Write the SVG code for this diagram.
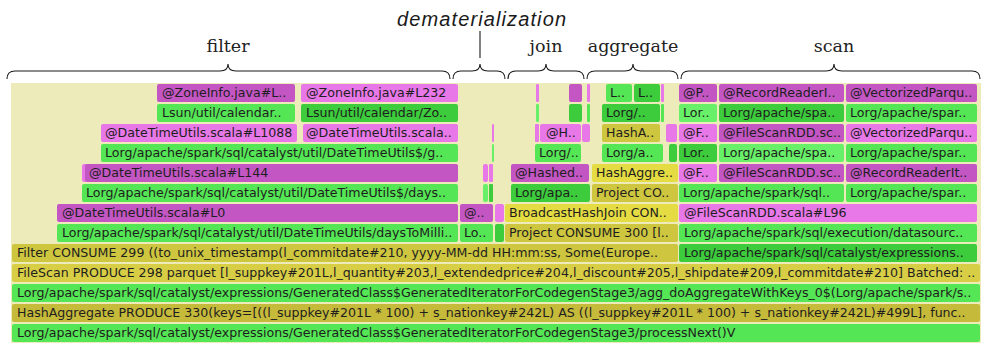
<svg xmlns="http://www.w3.org/2000/svg" width="982" height="343" viewBox="0 0 982 343">
  <style>
    .bg { fill: #eeebbb; }
    .p1 { fill: #c456c4; }
    .p2 { fill: #e878e8; }
    .g1 { fill: #55e655; }
    .g2 { fill: #3ccc3c; }
    .g3 { fill: #68f068; }
    .y1 { fill: #e4dc42; }
    .y2 { fill: #cec63e; }
    .y3 { fill: #d8ce46; }
    .y4 { fill: #c6ba3a; }
    .t { font-family: "DejaVu Sans", Verdana, sans-serif; font-size: 12.6px; fill: #1e1e1e; }
    .lbl { font-family: "DejaVu Serif", "Liberation Serif", serif; font-size: 17.5px; fill: #222; text-anchor: middle; }
    .lbl-i { font-family: "Liberation Sans", Arial, sans-serif; font-style: italic; font-size: 20px; fill: #1a1a1a; }
    .brace { fill: none; stroke: #1a1a1a; stroke-width: 1.1; }
  </style>

  <!-- phase braces and labels -->
  <g id="connectors">
    <path class="brace" d="M7,79 Q7,71 15,71 L220,71 Q228,71 228,64 Q228,71 236,71 L442,71 Q450,71 450,79"/>
    <path class="brace" d="M453,79 Q453,71 461,71 L472,71 Q480,71 480,64 Q480,71 488,71 L497,71 Q505,71 505,79"/>
    <line class="brace" x1="480" y1="31" x2="480" y2="58"/>
    <path class="brace" d="M508,79 Q508,71 516,71 L538,71 Q546,71 546,64 Q546,71 554,71 L576,71 Q584,71 584,79"/>
    <path class="brace" d="M587,79 Q587,71 595,71 L625,71 Q633,71 633,64 Q633,71 641,71 L670,71 Q678,71 678,79"/>
    <path class="brace" d="M681,79 Q681,71 689,71 L826,71 Q834,71 834,64 Q834,71 842,71 L972,71 Q980,71 980,79"/>
  </g>
  <g id="phase-labels">
    <text class="lbl" x="228" y="52">filter</text>
    <text class="lbl-i" x="397" y="26" textLength="169">dematerialization</text>
    <text class="lbl" x="546" y="52">join</text>
    <text class="lbl" x="633" y="52">aggregate</text>
    <text class="lbl" x="834" y="52">scan</text>
  </g>

  <!-- flame graph area -->
  <rect class="bg" x="11" y="83" width="970" height="260"/>

  <g id="frames">
    <!-- row 1 -->
    <g id="f1a"><rect class="p1" x="157" y="84" width="138" height="18" rx="2"/><text class="t" x="162" y="97">@ZoneInfo.java#L..</text></g>
    <g id="f1b"><rect class="p2" x="301" y="84" width="157" height="18" rx="2"/><text class="t" x="306" y="97">@ZoneInfo.java#L232</text></g>
    <g id="f1c"><rect class="p2" x="536" y="84" width="3" height="18" rx="1"/></g>
    <g id="f1d"><rect class="p1" x="569" y="84" width="13" height="18" rx="2"/></g>
    <g id="f1e"><rect class="p2" x="587" y="84" width="3" height="18" rx="1"/></g>
    <g id="f1f"><rect class="g1" x="606" y="84" width="26" height="18" rx="2"/><text class="t" x="610" y="97">L..</text></g>
    <g id="f1g"><rect class="g2" x="634" y="84" width="26" height="18" rx="2"/><text class="t" x="638" y="97">L..</text></g>
    <g id="f1h"><rect class="p2" x="661" y="84" width="3" height="18" rx="1"/></g>
    <g id="f1i"><rect class="p1" x="679" y="84" width="38" height="18" rx="2"/><text class="t" x="683" y="97">@P..</text></g>
    <g id="f1j"><rect class="p1" x="719" y="84" width="125" height="18" rx="2"/><text class="t" x="723" y="97">@RecordReaderI..</text></g>
    <g id="f1k"><rect class="p1" x="846" y="84" width="131" height="18" rx="2"/><text class="t" x="850" y="97">@VectorizedParqu..</text></g>

    <!-- row 2 -->
    <g id="f2a"><rect class="g1" x="157" y="104" width="138" height="18" rx="2"/><text class="t" x="162" y="117">Lsun/util/calendar..</text></g>
    <g id="f2b"><rect class="g2" x="301" y="104" width="157" height="18" rx="2"/><text class="t" x="306" y="117">Lsun/util/calendar/Zo..</text></g>
    <g id="f2c"><rect class="g3" x="536" y="104" width="3" height="18" rx="1"/></g>
    <g id="f2d"><rect class="g2" x="569" y="104" width="13" height="18" rx="2"/></g>
    <g id="f2e"><rect class="g1" x="587" y="104" width="3" height="18" rx="1"/></g>
    <g id="f2f"><rect class="g2" x="602" y="104" width="58" height="18" rx="2"/><text class="t" x="606" y="117">Lorg/..</text></g>
    <g id="f2g"><rect class="g1" x="661" y="104" width="3" height="18" rx="1"/></g>
    <g id="f2h"><rect class="g3" x="679" y="104" width="38" height="18" rx="2"/><text class="t" x="683" y="117">Lor..</text></g>
    <g id="f2i"><rect class="g2" x="719" y="104" width="125" height="18" rx="2"/><text class="t" x="723" y="117">Lorg/apache/spa..</text></g>
    <g id="f2j"><rect class="g1" x="846" y="104" width="131" height="18" rx="2"/><text class="t" x="850" y="117">Lorg/apache/spar..</text></g>

    <!-- row 3 -->
    <g id="f3a"><rect class="p2" x="101" y="124" width="196" height="18" rx="2"/><text class="t" x="105" y="137">@DateTimeUtils.scala#L1088</text></g>
    <g id="f3b"><rect class="p2" x="303" y="124" width="155" height="18" rx="2"/><text class="t" x="306" y="137">@DateTimeUtils.scala..</text></g>
    <g id="f3c"><rect class="p2" x="492" y="124" width="2" height="18" rx="1"/></g>
    <g id="f3d"><rect class="p2" x="535" y="124" width="4" height="18" rx="1"/></g>
    <g id="f3e"><rect class="p2" x="540" y="124" width="41" height="18" rx="2"/><text class="t" x="546" y="137">@H..</text></g>
    <g id="f3f"><rect class="p2" x="582" y="124" width="8" height="18" rx="2"/></g>
    <g id="f3g"><rect class="y2" x="602" y="124" width="58" height="18" rx="2"/><text class="t" x="606" y="137">HashA..</text></g>
    <g id="f3h"><rect class="p2" x="666" y="124" width="11" height="18" rx="2"/></g>
    <g id="f3i"><rect class="p2" x="679" y="124" width="38" height="18" rx="2"/><text class="t" x="683" y="137">@F..</text></g>
    <g id="f3j"><rect class="p1" x="719" y="124" width="125" height="18" rx="2"/><text class="t" x="723" y="137">@FileScanRDD.sc..</text></g>
    <g id="f3k"><rect class="p2" x="846" y="124" width="131" height="18" rx="2"/><text class="t" x="850" y="137">@VectorizedParqu..</text></g>

    <!-- row 4 -->
    <g id="f4a"><rect class="g1" x="101" y="144" width="357" height="18" rx="2"/><text class="t" x="105" y="157">Lorg/apache/spark/sql/catalyst/util/DateTimeUtils$/g..</text></g>
    <g id="f4b"><rect class="g3" x="492" y="144" width="2" height="18" rx="1"/></g>
    <g id="f4c"><rect class="g1" x="535" y="144" width="46" height="18" rx="2"/><text class="t" x="539" y="157">Lorg/..</text></g>
    <g id="f4d"><rect class="g1" x="602" y="144" width="61" height="18" rx="2"/><text class="t" x="606" y="157">Lorg/a..</text></g>
    <g id="f4e"><rect class="g2" x="669" y="144" width="8" height="18" rx="2"/></g>
    <g id="f4f"><rect class="g2" x="679" y="144" width="38" height="18" rx="2"/><text class="t" x="683" y="157">Lor..</text></g>
    <g id="f4g"><rect class="g3" x="719" y="144" width="125" height="18" rx="2"/><text class="t" x="723" y="157">Lorg/apache/spa..</text></g>
    <g id="f4h"><rect class="g1" x="846" y="144" width="131" height="18" rx="2"/><text class="t" x="850" y="157">Lorg/apache/spar..</text></g>

    <!-- row 5 -->
    <g id="f5a"><rect class="p2" x="82" y="164" width="5" height="18" rx="2"/></g>
    <g id="f5b"><rect class="p1" x="85" y="164" width="373" height="18" rx="2"/><text class="t" x="89" y="177">@DateTimeUtils.scala#L144</text></g>
    <g id="f5c"><rect class="p2" x="483" y="164" width="5" height="18" rx="2"/></g>
    <g id="f5d"><rect class="p2" x="489" y="164" width="4" height="18" rx="1"/></g>
    <g id="f5e"><rect class="p1" x="511" y="164" width="78" height="18" rx="2"/><text class="t" x="515" y="177">@Hashed..</text></g>
    <g id="f5f"><rect class="y1" x="592" y="164" width="86" height="18" rx="2"/><text class="t" x="596" y="177">HashAggre..</text></g>
    <g id="f5g"><rect class="p2" x="679" y="164" width="38" height="18" rx="2"/><text class="t" x="683" y="177">@F..</text></g>
    <g id="f5h"><rect class="p1" x="719" y="164" width="125" height="18" rx="2"/><text class="t" x="723" y="177">@FileScanRDD.sc..</text></g>
    <g id="f5i"><rect class="p1" x="846" y="164" width="131" height="18" rx="2"/><text class="t" x="850" y="177">@RecordReaderIt..</text></g>

    <!-- row 6 -->
    <g id="f6a"><rect class="g1" x="82" y="184" width="376" height="18" rx="2"/><text class="t" x="86" y="197">Lorg/apache/spark/sql/catalyst/util/DateTimeUtils$/days..</text></g>
    <g id="f6b"><rect class="g3" x="483" y="184" width="5" height="18" rx="2"/></g>
    <g id="f6c"><rect class="g2" x="489" y="184" width="4" height="18" rx="1"/></g>
    <g id="f6d"><rect class="g2" x="511" y="184" width="79" height="18" rx="2"/><text class="t" x="515" y="197">Lorg/apa..</text></g>
    <g id="f6e"><rect class="y2" x="592" y="184" width="86" height="18" rx="2"/><text class="t" x="596" y="197">Project CO..</text></g>
    <g id="f6f"><rect class="g1" x="679" y="184" width="165" height="18" rx="2"/><text class="t" x="683" y="197">Lorg/apache/spark/sql..</text></g>
    <g id="f6g"><rect class="g1" x="846" y="184" width="131" height="18" rx="2"/><text class="t" x="850" y="197">Lorg/apache/spar..</text></g>

    <!-- row 7 -->
    <g id="f7a"><rect class="p1" x="57" y="204" width="401" height="18" rx="2"/><text class="t" x="62" y="217">@DateTimeUtils.scala#L0</text></g>
    <g id="f7b"><rect class="p1" x="460" y="204" width="33" height="18" rx="2"/><text class="t" x="464" y="217">@..</text></g>
    <g id="f7c"><rect class="p2" x="495" y="204" width="9" height="18" rx="2"/></g>
    <g id="f7d"><rect class="y1" x="505" y="204" width="173" height="18" rx="2"/><text class="t" x="509" y="217">BroadcastHashJoin CON..</text></g>
    <g id="f7e"><rect class="p2" x="679" y="204" width="298" height="18" rx="2"/><text class="t" x="684" y="217">@FileScanRDD.scala#L96</text></g>

    <!-- row 8 -->
    <g id="f8a"><rect class="g1" x="57" y="224" width="401" height="18" rx="2"/><text class="t" x="62" y="237">Lorg/apache/spark/sql/catalyst/util/DateTimeUtils/daysToMilli..</text></g>
    <g id="f8b"><rect class="g1" x="460" y="224" width="33" height="18" rx="2"/><text class="t" x="464" y="237">Lo..</text></g>
    <g id="f8c"><rect class="g2" x="495" y="224" width="9" height="18" rx="2"/></g>
    <g id="f8d"><rect class="y2" x="505" y="224" width="173" height="18" rx="2"/><text class="t" x="509" y="237">Project CONSUME 300 [l..</text></g>
    <g id="f8e"><rect class="g1" x="679" y="224" width="298" height="18" rx="2"/><text class="t" x="684" y="237">Lorg/apache/spark/sql/execution/datasourc..</text></g>

    <!-- row 9 -->
    <g id="f9a"><rect class="y2" x="12" y="244" width="666" height="18" rx="2"/><text class="t" x="17" y="257">Filter CONSUME 299 ((to_unix_timestamp(l_commitdate#210, yyyy-MM-dd HH:mm:ss, Some(Europe..</text></g>
    <g id="f9b"><rect class="g2" x="679" y="244" width="298" height="18" rx="2"/><text class="t" x="684" y="257">Lorg/apache/spark/sql/catalyst/expressions..</text></g>

    <!-- rows 10-13 -->
    <g id="f10"><rect class="y3" x="12" y="264" width="968" height="18" rx="2"/><text class="t" x="17" y="277">FileScan PRODUCE 298 parquet [l_suppkey#201L,l_quantity#203,l_extendedprice#204,l_discount#205,l_shipdate#209,l_commitdate#210] Batched: ..</text></g>
    <g id="f11"><rect class="g1" x="12" y="284" width="968" height="18" rx="2"/><text class="t" x="17" y="297">Lorg/apache/spark/sql/catalyst/expressions/GeneratedClass$GeneratedIteratorForCodegenStage3/agg_doAggregateWithKeys_0$(Lorg/apache/spark/s..</text></g>
    <g id="f12"><rect class="y4" x="12" y="304" width="968" height="18" rx="2"/><text class="t" x="17" y="317">HashAggregate PRODUCE 330(keys=[((l_suppkey#201L * 100) + s_nationkey#242L) AS ((l_suppkey#201L * 100) + s_nationkey#242L)#499L], func..</text></g>
    <g id="f13"><rect class="g1" x="12" y="324" width="968" height="18" rx="2"/><text class="t" x="17" y="337">Lorg/apache/spark/sql/catalyst/expressions/GeneratedClass$GeneratedIteratorForCodegenStage3/processNext()V</text></g>
  </g>
</svg>
